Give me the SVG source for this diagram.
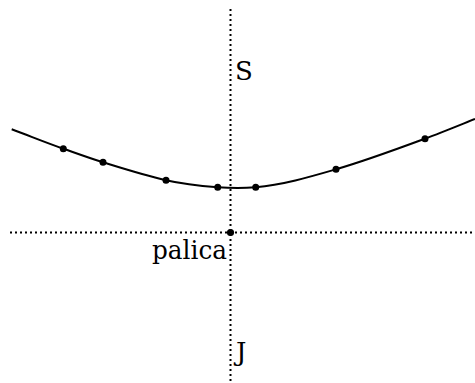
<svg xmlns="http://www.w3.org/2000/svg" width="475" height="383" viewBox="0 0 475 383">
<style>
.axis{stroke:#000;stroke-width:2;stroke-dasharray:2 3;fill:none}
.curve{stroke:#000;stroke-width:2;fill:none}
.pt{fill:#000}
.lbl{font-family:"DejaVu Serif","Liberation Serif",serif;font-size:26px;fill:#000}
</style>
<rect width="475" height="383" fill="#fff"/>
<g id="connectors">
<line class="axis" x1="230.5" y1="9" x2="230.5" y2="381"/>
<line class="axis" x1="10" y1="232.5" x2="473" y2="232.5"/>
<path class="curve" d="M11.7,129.3 C28.9,135.66 46.1,142.68 63.3,148.7 C76.53,153.33 89.77,158.2 103,162.3 C124,168.81 145,175.47 166,180.3 C183.23,184.26 200.47,186.01 217.7,187.3 C230.37,188.25 243.03,188.44 255.7,187.3 C282.47,184.89 309.23,177.06 336,169.3 C365.67,160.7 395.33,149.68 425,138.7 C441.67,132.53 458.33,125.67 475,119"/>
</g>
<g id="points">
<circle class="pt" cx="63.3" cy="148.7" r="3.5"/>
<circle class="pt" cx="103" cy="162.3" r="3.5"/>
<circle class="pt" cx="166" cy="180.3" r="3.5"/>
<circle class="pt" cx="217.7" cy="187.3" r="3.5"/>
<circle class="pt" cx="255.7" cy="187.3" r="3.5"/>
<circle class="pt" cx="336" cy="169.3" r="3.5"/>
<circle class="pt" cx="425" cy="138.7" r="3.5"/>
</g>
<g id="origin">
<circle class="pt" cx="230.5" cy="232.5" r="3.6"/>
<text class="lbl" x="227" y="258.5" text-anchor="end" textLength="75" lengthAdjust="spacingAndGlyphs">palica</text>
</g>
<g id="north"><text class="lbl" x="235" y="79.5">S</text></g>
<g id="south"><text class="lbl" x="236" y="361">J</text></g>
</svg>
